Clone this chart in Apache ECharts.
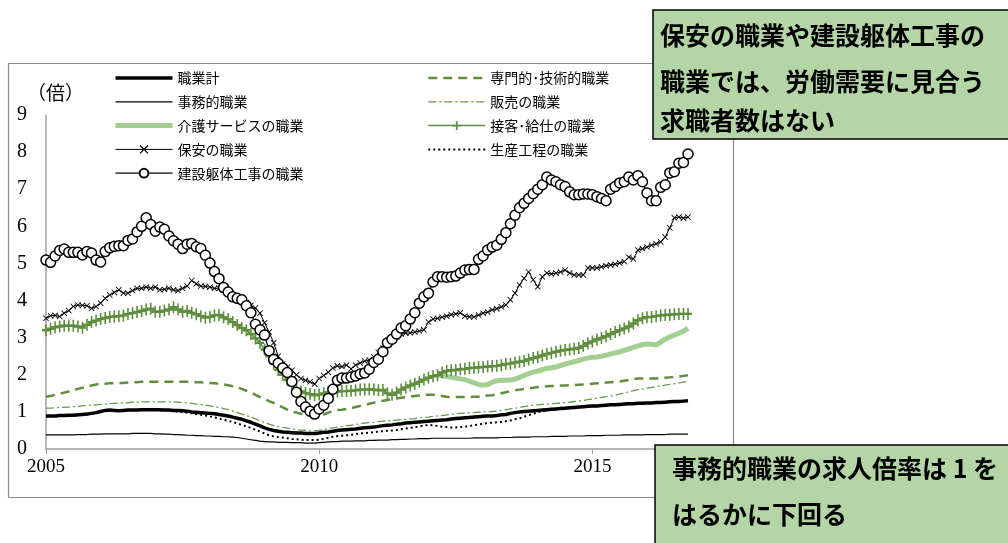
<!DOCTYPE html>
<html>
<head>
<meta charset="utf-8">
<script src="https://cdn.jsdelivr.net/npm/echarts@6/dist/echarts.min.js"></script>
<style>
html, body { margin: 0; padding: 0; background: #fff; }
#chart { width: 1008px; height: 543px; }
</style>
</head>
<body>
<div id="chart"></div>
<script>
// monthly, 2005/1 - 2016/10
var months = [];
for (var y = 2005; y <= 2016; y++) {
    for (var m = 1; m <= 12; m++) {
        if (y == 2016 && m > 10) break;
        months.push(y + '/' + m);
    }
}
var yTicks = [0, 1, 2, 3, 4, 5, 6, 7, 8, 9];

var total = [0.89,0.89,0.89,0.9,0.9,0.91,0.91,0.92,0.93,0.94,0.96,0.98,1.01,1.04,1.05,1.04,1.03,1.04,1.05,1.05,
    1.05,1.06,1.06,1.06,1.06,1.06,1.05,1.05,1.04,1.04,1.03,1.02,1.0,0.99,0.98,0.97,0.96,0.95,0.93,0.91,
    0.89,0.86,0.83,0.8,0.76,0.72,0.67,0.62,0.57,0.53,0.5,0.48,0.46,0.45,0.44,0.43,0.43,0.42,0.42,0.42,
    0.43,0.45,0.46,0.48,0.5,0.51,0.52,0.53,0.54,0.56,0.57,0.58,0.59,0.61,0.63,0.64,0.65,0.67,0.68,0.7,
    0.71,0.72,0.73,0.74,0.75,0.76,0.77,0.78,0.79,0.81,0.82,0.83,0.84,0.85,0.86,0.87,0.88,0.89,0.89,0.9,
    0.92,0.93,0.96,0.98,1.0,1.01,1.02,1.03,1.04,1.05,1.06,1.07,1.08,1.09,1.1,1.11,1.12,1.13,1.14,1.15,
    1.16,1.16,1.17,1.18,1.19,1.19,1.2,1.21,1.22,1.22,1.23,1.23,1.24,1.24,1.25,1.25,1.26,1.27,1.28,1.28,
    1.29,1.3];
var professional = [1.41,1.43,1.46,1.49,1.52,1.55,1.58,1.62,1.65,1.68,1.71,1.74,1.76,1.76,1.77,1.77,1.78,1.78,1.79,1.8,
    1.8,1.81,1.81,1.81,1.81,1.81,1.81,1.81,1.81,1.81,1.81,1.81,1.81,1.8,1.8,1.79,1.78,1.77,1.76,1.74,
    1.72,1.69,1.66,1.62,1.57,1.52,1.46,1.4,1.35,1.29,1.24,1.18,1.12,1.06,1.01,0.98,0.95,0.92,0.9,0.88,
    0.9,0.93,0.98,1.02,1.05,1.06,1.08,1.1,1.13,1.16,1.19,1.22,1.25,1.28,1.3,1.32,1.34,1.36,1.38,1.4,
    1.41,1.43,1.44,1.45,1.46,1.46,1.45,1.43,1.41,1.4,1.4,1.4,1.4,1.4,1.41,1.41,1.43,1.44,1.45,1.47,
    1.5,1.53,1.56,1.58,1.6,1.62,1.64,1.65,1.67,1.68,1.69,1.7,1.7,1.71,1.71,1.72,1.72,1.73,1.74,1.75,
    1.76,1.77,1.78,1.79,1.8,1.81,1.82,1.84,1.86,1.88,1.9,1.9,1.9,1.9,1.9,1.91,1.92,1.93,1.94,1.95,
    1.97,1.99];
var clerical = [0.38,0.38,0.38,0.38,0.38,0.38,0.38,0.39,0.39,0.39,0.4,0.4,0.4,0.41,0.41,0.41,0.41,0.41,0.41,0.42,
    0.42,0.42,0.42,0.42,0.41,0.41,0.4,0.4,0.39,0.39,0.38,0.37,0.37,0.36,0.36,0.35,0.35,0.34,0.34,0.33,
    0.33,0.32,0.31,0.29,0.27,0.25,0.23,0.21,0.2,0.19,0.19,0.18,0.18,0.18,0.17,0.17,0.17,0.16,0.16,0.16,
    0.17,0.18,0.19,0.2,0.2,0.21,0.21,0.21,0.22,0.22,0.22,0.23,0.23,0.24,0.24,0.24,0.25,0.25,0.26,0.26,
    0.27,0.27,0.28,0.28,0.28,0.29,0.29,0.29,0.29,0.29,0.29,0.29,0.29,0.29,0.3,0.3,0.3,0.3,0.3,0.3,
    0.31,0.31,0.31,0.32,0.32,0.32,0.32,0.33,0.33,0.33,0.33,0.34,0.34,0.34,0.34,0.35,0.35,0.35,0.35,0.36,
    0.36,0.36,0.36,0.37,0.37,0.37,0.37,0.38,0.38,0.38,0.38,0.38,0.39,0.39,0.39,0.39,0.39,0.4,0.4,0.4,
    0.4,0.4];
var sales = [1.1,1.1,1.11,1.12,1.12,1.13,1.14,1.15,1.16,1.17,1.18,1.19,1.2,1.21,1.22,1.23,1.24,1.24,1.25,1.26,
    1.26,1.27,1.27,1.27,1.27,1.27,1.27,1.27,1.27,1.26,1.25,1.24,1.23,1.21,1.2,1.18,1.16,1.14,1.12,1.09,
    1.06,1.02,0.98,0.94,0.9,0.86,0.81,0.76,0.71,0.67,0.63,0.6,0.58,0.56,0.54,0.52,0.51,0.5,0.49,0.49,
    0.5,0.52,0.55,0.57,0.59,0.61,0.63,0.64,0.66,0.68,0.7,0.71,0.72,0.74,0.75,0.76,0.77,0.78,0.79,0.8,
    0.81,0.82,0.84,0.85,0.86,0.88,0.89,0.9,0.92,0.93,0.95,0.96,0.97,0.98,0.98,0.99,1.0,1.0,1.01,1.02,
    1.04,1.06,1.08,1.1,1.12,1.14,1.16,1.18,1.19,1.2,1.21,1.22,1.23,1.24,1.25,1.26,1.28,1.29,1.31,1.33,
    1.35,1.37,1.39,1.41,1.43,1.45,1.48,1.51,1.54,1.57,1.6,1.62,1.64,1.66,1.68,1.7,1.72,1.74,1.76,1.78,
    1.8,1.83];
// 介護サービス: series starts 2012/3
var care = [null,null,null,null,null,null,null,null,null,null,null,null,null,null,null,null,null,null,null,null,
    null,null,null,null,null,null,null,null,null,null,null,null,null,null,null,null,null,null,null,null,
    null,null,null,null,null,null,null,null,null,null,null,null,null,null,null,null,null,null,null,null,
    null,null,null,null,null,null,null,null,null,null,null,null,null,null,null,null,null,null,null,null,
    null,null,null,null,null,null,1.99,1.97,1.95,1.93,1.91,1.89,1.87,1.83,1.78,1.74,1.72,1.74,1.8,1.84,
    1.85,1.85,1.86,1.88,1.93,1.98,2.03,2.07,2.1,2.14,2.17,2.19,2.21,2.25,2.29,2.32,2.35,2.38,2.42,2.45,
    2.47,2.48,2.5,2.53,2.56,2.59,2.62,2.66,2.7,2.74,2.78,2.81,2.83,2.82,2.8,2.88,2.96,3.02,3.07,3.12,
    3.17,3.26];
var service = [3.2,3.24,3.28,3.3,3.32,3.32,3.32,3.3,3.27,3.35,3.42,3.46,3.5,3.53,3.56,3.57,3.58,3.6,3.64,3.66,
    3.69,3.72,3.76,3.78,3.7,3.7,3.73,3.76,3.82,3.76,3.7,3.72,3.67,3.63,3.58,3.54,3.56,3.6,3.61,3.55,
    3.5,3.42,3.34,3.26,3.2,3.1,2.98,2.86,2.68,2.5,2.3,2.13,2.0,1.86,1.72,1.6,1.55,1.51,1.48,1.45,
    1.47,1.5,1.53,1.55,1.55,1.56,1.56,1.57,1.58,1.6,1.6,1.61,1.6,1.58,1.59,1.5,1.46,1.52,1.6,1.66,
    1.71,1.76,1.81,1.87,1.92,1.96,1.99,2.06,2.1,2.12,2.13,2.15,2.16,2.18,2.19,2.2,2.21,2.22,2.23,2.24,
    2.26,2.29,2.3,2.33,2.35,2.37,2.41,2.45,2.48,2.52,2.56,2.59,2.62,2.65,2.67,2.68,2.7,2.72,2.78,2.85,
    2.9,2.95,2.99,3.04,3.1,3.15,3.2,3.25,3.3,3.38,3.47,3.52,3.55,3.56,3.58,3.6,3.61,3.62,3.63,3.64,
    3.64,3.64];
var security = [3.52,3.59,3.6,3.57,3.66,3.73,3.84,3.88,3.87,3.86,3.79,3.84,3.93,4.06,4.15,4.22,4.29,4.2,4.2,4.27,
    4.33,4.33,4.36,4.33,4.36,4.29,4.3,4.33,4.29,4.27,4.33,4.39,4.54,4.45,4.39,4.38,4.36,4.33,4.33,4.29,
    4.2,4.12,4.06,4.02,3.95,3.87,3.8,3.66,3.4,3.15,2.86,2.5,2.3,2.2,2.12,2.0,1.9,1.85,1.81,1.75,
    1.9,1.98,2.07,2.18,2.24,2.22,2.26,2.16,2.26,2.32,2.37,2.4,2.48,2.6,2.72,2.88,2.95,3.02,3.1,3.12,
    3.13,3.15,3.18,3.21,3.42,3.5,3.52,3.55,3.58,3.62,3.64,3.67,3.58,3.56,3.56,3.61,3.66,3.69,3.75,3.78,
    3.83,3.88,4.02,4.2,4.42,4.6,4.77,4.56,4.37,4.64,4.74,4.72,4.74,4.77,4.82,4.74,4.69,4.69,4.69,4.88,
    4.88,4.88,4.91,4.94,4.96,4.98,5.01,5.05,5.17,5.12,5.36,5.4,5.44,5.49,5.53,5.58,5.71,5.96,6.23,6.25,
    6.22,6.25];
var production = [0.88,0.88,0.88,0.89,0.89,0.9,0.9,0.91,0.92,0.93,0.95,0.97,1.0,1.03,1.04,1.03,1.03,1.04,1.04,1.04,
    1.05,1.05,1.05,1.05,1.05,1.04,1.04,1.03,1.02,1.01,1.0,0.98,0.96,0.94,0.92,0.9,0.88,0.85,0.82,0.79,
    0.76,0.73,0.69,0.65,0.61,0.57,0.52,0.47,0.42,0.37,0.34,0.32,0.31,0.29,0.27,0.26,0.25,0.24,0.24,0.24,
    0.25,0.27,0.3,0.33,0.35,0.36,0.37,0.38,0.4,0.42,0.43,0.44,0.45,0.47,0.48,0.49,0.5,0.51,0.53,0.55,
    0.57,0.59,0.61,0.63,0.65,0.64,0.62,0.6,0.59,0.58,0.58,0.59,0.6,0.62,0.64,0.66,0.68,0.7,0.71,0.72,
    0.73,0.75,0.77,0.8,0.83,0.87,0.91,0.95,0.99,1.02,1.04,1.06,1.07,1.08,1.09,1.1,1.11,1.12,1.13,1.14,
    1.15,1.16,1.17,1.18,1.19,1.2,1.21,1.21,1.22,1.22,1.23,1.23,1.24,1.24,1.25,1.25,1.26,1.27,1.28,1.29,
    1.29,1.3];
var construction = [5.09,5.03,5.2,5.35,5.39,5.3,5.3,5.3,5.23,5.32,5.28,5.09,5.04,5.32,5.42,5.46,5.48,5.48,5.62,5.66,
    5.85,6.0,6.23,6.05,5.87,5.98,5.92,5.74,5.61,5.52,5.4,5.52,5.54,5.45,5.4,5.22,5.01,4.78,4.59,4.35,
    4.23,4.1,4.06,4.02,3.86,3.67,3.36,3.21,3.07,2.65,2.41,2.31,2.18,2.06,1.82,1.53,1.28,1.13,1.02,0.94,
    1.08,1.18,1.36,1.61,1.85,1.91,1.91,1.94,1.97,2.02,2.05,2.15,2.33,2.42,2.62,2.86,2.96,3.1,3.26,3.32,
    3.5,3.67,3.93,4.1,4.2,4.5,4.64,4.64,4.63,4.64,4.66,4.74,4.82,4.84,4.84,5.11,5.2,5.36,5.44,5.49,
    5.65,5.83,6.07,6.3,6.5,6.62,6.75,6.88,7.0,7.12,7.33,7.25,7.2,7.12,7.07,6.93,6.85,6.85,6.87,6.87,
    6.85,6.8,6.75,6.69,7.0,7.07,7.17,7.2,7.33,7.25,7.36,7.2,6.9,6.69,6.69,7.05,7.12,7.44,7.47,7.7,
    7.72,7.95];

var names = ['職業計', '専門的･技術的職業', '事務的職業', '販売の職業', '介護サービスの職業',
    '接客･給仕の職業', '保安の職業', '生産工程の職業', '建設躯体工事の職業'];

var plusIcon = 'path://M4,0H6V4H10V6H6V10H4V6H0V4H4Z';
var crossIcon = 'path://M0,1L1,0L5,4L9,0L10,1L6,5L10,9L9,10L5,6L1,10L0,9L4,5Z';
var green = '#5e8e3e';
var jp = '"Noto Sans CJK JP", sans-serif';
var serif = '"Liberation Serif", "Times New Roman", serif';

function lineSeries(name, data, color, width, type, extra) {
    var s = {
        name: name,
        type: 'line',
        data: data,
        symbol: 'none',
        showAllSymbol: true,
        animation: false,
        lineStyle: { color: color, width: width, type: type || 'solid' },
        itemStyle: { color: color }
    };
    for (var k in extra) s[k] = extra[k];
    return s;
}

// legend entry; plain lines get no marker in the icon
function legendItem(name, marker) {
    if (marker) return { name: name };
    return { name: name, itemStyle: { opacity: 0 } };
}

var legendBase = {
    orient: 'vertical', top: 66,
    itemWidth: 57, itemHeight: 11, itemGap: 9.8,
    lineStyle: { width: 'inherit' },
    textStyle: { fontFamily: jp, fontSize: 14, color: '#000' }
};

var chart = echarts.init(document.getElementById('chart'));

chart.setOption({
    backgroundColor: '#fff',
    animation: false,
    grid: { left: 46, top: 115, width: 642, height: 334 },
    legend: [
        Object.assign({}, legendBase, {
            left: 108,
            data: [legendItem(names[0]), legendItem(names[2]), legendItem(names[4]),
                legendItem(names[6], true), legendItem(names[8], true)]
        }),
        Object.assign({}, legendBase, {
            left: 422,
            data: [legendItem(names[1]), legendItem(names[3]), legendItem(names[5], true),
                legendItem(names[7])]
        })
    ],
    xAxis: {
        type: 'category',
        data: months,
        boundaryGap: false,
        axisLine: { lineStyle: { color: '#a0a0a0', width: 1.5 } },
        axisTick: {
            length: 5,
            lineStyle: { color: '#a0a0a0' },
            interval: function (i) { return i % 60 === 0; }
        },
        axisLabel: {
            interval: function (i) { return i % 60 === 0; },
            formatter: function (v) { return v.split('/')[0]; },
            fontFamily: serif, fontSize: 19, color: '#000', margin: 9
        }
    },
    yAxis: {
        type: 'value',
        min: yTicks[0], max: yTicks[yTicks.length - 1], interval: 1,
        splitLine: { show: false },
        axisLine: { show: true, lineStyle: { color: '#a0a0a0', width: 1.5 } },
        axisTick: { show: false },
        axisLabel: { fontFamily: serif, fontSize: 20, color: '#000', margin: 19 }
    },
    graphic: [
        { type: 'rect', shape: { x: 8.5, y: 63.5, width: 725, height: 434 },
          style: { fill: null, stroke: '#8c8c8c', lineWidth: 1.2 }, z: -1 },
        { type: 'text', left: 27, top: 83,
          style: { text: '（倍）', font: '19px ' + jp, fill: '#000' } },
        { type: 'rect', shape: { x: 653, y: 10, width: 370, height: 129 },
          style: { fill: '#b4d5a6', stroke: '#000', lineWidth: 1.5 }, z: 100 },
        { type: 'text', left: 660, top: 23, z: 101,
          style: { text: '保安の職業や建設躯体工事の', font: 'bold 25px ' + jp, fill: '#000' } },
        { type: 'text', left: 660, top: 69, z: 101,
          style: { text: '職業では、労働需要に見合う', font: 'bold 25px ' + jp, fill: '#000' } },
        { type: 'text', left: 660, top: 108, z: 101,
          style: { text: '求職者数はない', font: 'bold 25px ' + jp, fill: '#000' } },
        { type: 'rect', shape: { x: 655, y: 445, width: 370, height: 120 },
          style: { fill: '#b4d5a6', stroke: '#000', lineWidth: 1.5 }, z: 100 },
        { type: 'text', left: 672, top: 456, z: 101,
          style: { text: '事務的職業の求人倍率は 1 を', font: 'bold 25px ' + jp, fill: '#000' } },
        { type: 'text', left: 672, top: 502, z: 101,
          style: { text: 'はるかに下回る', font: 'bold 25px ' + jp, fill: '#000' } }
    ],
    series: [
        lineSeries(names[0], total, '#000', 3.5),
        lineSeries(names[1], professional, '#5e8e3e', 2.5, [9, 6]),
        lineSeries(names[2], clerical, '#000', 1.2),
        lineSeries(names[3], sales, '#6a9a4a', 1.3, [8, 3, 2, 3]),
        lineSeries(names[4], care, '#a3cf92', 5),
        lineSeries(names[5], service, green, 1.5, null, {
            symbol: plusIcon, symbolSize: [8, 12], itemStyle: { color: green } }),
        lineSeries(names[6], security, '#000', 1, null, {
            symbol: crossIcon, symbolSize: 6, itemStyle: { color: '#000' } }),
        lineSeries(names[7], production, '#000', 2, [2, 3]),
        lineSeries(names[8], construction, '#000', 1.2, null, {
            symbol: 'circle', symbolSize: 10,
            itemStyle: { color: '#fff', borderColor: '#000', borderWidth: 1.5 } })
    ]
});
</script>
</body>
</html>
